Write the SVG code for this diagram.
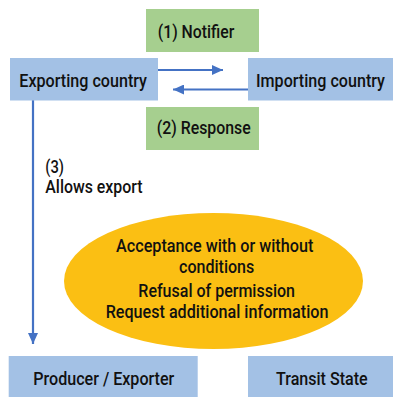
<svg xmlns="http://www.w3.org/2000/svg" width="393" height="397" viewBox="0 0 393 397">
<style>
.blue{fill:#a3c1e5}
.green{fill:#a6cf8f}
.t{font-family:Roboto,"Liberation Sans",sans-serif;font-size:17.5px;font-weight:500;fill:#111}
.c{stroke:#4472c4;stroke-width:2.2;fill:none}
</style>
<defs>
<marker id="ah" viewBox="0 0 11 10" refX="11" refY="5" markerWidth="11" markerHeight="10" markerUnits="userSpaceOnUse" orient="auto">
<path d="M0,0 L11,5 L0,10 Z" fill="#4472c4"/>
</marker>
</defs>
<rect width="393" height="397" fill="#fff"/>
<g id="connectors">
<line class="c" x1="158" y1="70" x2="223" y2="70" marker-end="url(#ah)"/>
<line class="c" x1="248" y1="89.5" x2="173" y2="89.5" marker-end="url(#ah)"/>
<line class="c" x1="33" y1="100" x2="33" y2="344" marker-end="url(#ah)"/>
</g>
<g id="notifier">
<rect class="green" x="146" y="9" width="113" height="43"/>
<text class="t" x="157.7" y="38.3" textLength="76.6" lengthAdjust="spacingAndGlyphs">(1) Notifier</text>
</g>
<g id="exporting">
<rect class="blue" x="10" y="58" width="148" height="42.5"/>
<text class="t" x="19.3" y="87.3" textLength="127.7" lengthAdjust="spacingAndGlyphs">Exporting country</text>
</g>
<g id="importing">
<rect class="blue" x="248" y="58" width="145" height="42.5"/>
<text class="t" x="256" y="87.3" textLength="129" lengthAdjust="spacingAndGlyphs">Importing country</text>
</g>
<g id="response">
<rect class="green" x="146" y="107" width="113" height="43"/>
<text class="t" x="156.7" y="134.3" textLength="94" lengthAdjust="spacingAndGlyphs">(2) Response</text>
</g>
<g id="allows">
<text class="t" x="45.3" y="172.7" textLength="18.7" lengthAdjust="spacingAndGlyphs">(3)</text>
<text class="t" x="45.3" y="192.7" textLength="97.3" lengthAdjust="spacingAndGlyphs">Allows export</text>
</g>
<g id="options">
<ellipse cx="213.5" cy="281" rx="149.5" ry="68" fill="#fbbf13"/>
<text class="t" x="116" y="251.7" textLength="197.3" lengthAdjust="spacingAndGlyphs">Acceptance with or without</text>
<text class="t" x="179" y="273" textLength="75.3" lengthAdjust="spacingAndGlyphs">conditions</text>
<text class="t" x="138.3" y="296.7" textLength="156.7" lengthAdjust="spacingAndGlyphs">Refusal of permission</text>
<text class="t" x="105.7" y="318.3" textLength="222.7" lengthAdjust="spacingAndGlyphs">Request additional information</text>
</g>
<g id="producer">
<rect class="blue" x="8.7" y="356" width="189" height="41"/>
<text class="t" x="33.3" y="385" textLength="141" lengthAdjust="spacingAndGlyphs">Producer / Exporter</text>
</g>
<g id="transit">
<rect class="blue" x="248" y="356" width="145" height="41"/>
<text class="t" x="276" y="385" textLength="91.7" lengthAdjust="spacingAndGlyphs">Transit State</text>
</g>
</svg>
